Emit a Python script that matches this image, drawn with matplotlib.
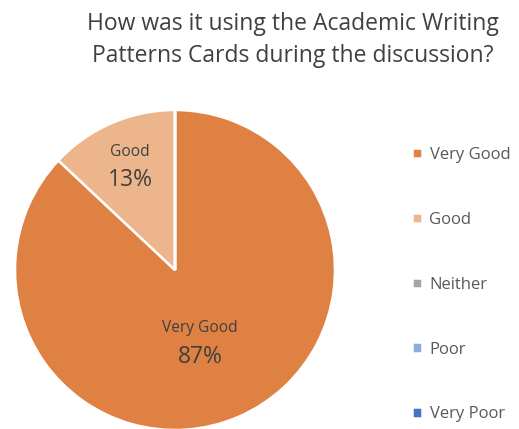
import matplotlib
matplotlib.use("Agg")
import matplotlib.pyplot as plt

categories = ["Very Good", "Good", "Neither", "Poor", "Very Poor"]
values = [87, 13, 0, 0, 0]
colors = ["#E08144", "#EDB58C", "#A5A5A5", "#8FAADC", "#4472C4"]
title = "How was it using the Academic Writing\nPatterns Cards during the discussion?"

plt.rcParams['font.family'] = ['Open Sans', 'DejaVu Sans']

fig = plt.figure(figsize=(5.19, 4.29), dpi=100)
ax = fig.add_axes([15/519, -1/429, 320/519, 320/429])
wedges, _ = ax.pie(values, colors=colors, startangle=90, counterclock=False,
                   wedgeprops=dict(edgecolor="white", linewidth=1.8), radius=1)
ax.set_xlim(-1, 1)
ax.set_ylim(-1, 1)
ax.set_aspect('equal')

# data labels
total = sum(values)
label_pos = {"Good": (-0.28, 0.74, 0.18), "Very Good": (0.156, -0.36, 0.185)}
for cat, v in zip(categories, values):
    if v == 0:
        continue
    x, y, dy = label_pos[cat]
    ax.text(x, y, cat, ha='center', va='center', fontsize=11.2, color="#404040")
    ax.text(x, y - dy, f"{round(100*v/total)}%", ha='center', va='center',
            fontsize=16.5, color="#404040")

fig.text(0.565, 0.972, title, ha='center', va='top', fontsize=16.5, color="#404040",
         linespacing=1.45)

fig.legend(wedges, categories, loc='upper left', bbox_to_anchor=(397/519, 1-132/429),
           frameon=False, handlelength=0.6, handleheight=0.6, handletextpad=0.45,
           labelspacing=2.93, fontsize=12, labelcolor="#595959")

fig.savefig("out.png", dpi=100)
